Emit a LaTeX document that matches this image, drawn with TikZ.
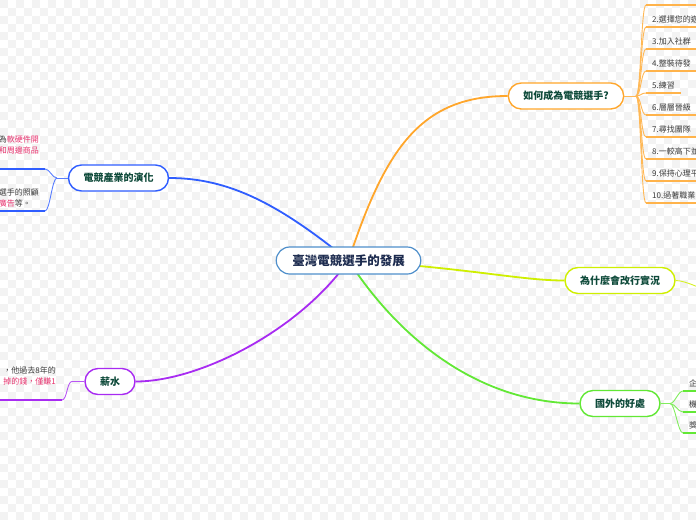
\documentclass[tikz,border=0pt]{standalone}
\usepackage{fontspec}
\setmainfont{Noto Sans CJK TC}
\usetikzlibrary{backgrounds}
\definecolor{rootblue}{HTML}{4F8FCB}
\definecolor{rootnavy}{HTML}{1B2A4E}
\definecolor{topicgreen}{HTML}{0E4A3A}
\definecolor{brorange}{HTML}{FFA62B}
\definecolor{brblue}{HTML}{2F5DFF}
\definecolor{brpurple}{HTML}{A82BF2}
\definecolor{brlime}{HTML}{CFEF00}
\definecolor{brgreen}{HTML}{62E835}
\definecolor{hotpink}{HTML}{E8336F}
\definecolor{leafgray}{HTML}{3A3A3A}
\definecolor{checker}{HTML}{F3F3F3}
\newcommand{\hot}[1]{{\color{hotpink}#1}}

\begin{document}
\begin{tikzpicture}[
        x=1pt,
        y=-1pt,
        every node/.style={inner sep=0pt},
        root/.style={
            draw=rootblue,
            line width=1.2pt,
            fill=white,
            rounded corners=13.5pt,
            minimum height=27pt,
            inner xsep=16pt,
            text=rootnavy,
            font=\bfseries\fontsize{12.5}{14}\selectfont
        },
        topic/.style={
            line width=1.4pt,
            fill=white,
            rounded corners=13pt,
            minimum height=26pt,
            inner xsep=15pt,
            text=topicgreen,
            font=\bfseries\fontsize{10}{12}\selectfont
        },
        leaf/.style={
            inner xsep=6pt,
            inner ysep=4pt,
            align=left,
            text=leafgray,
            font=\fontsize{8}{11}\selectfont
        },
        branch/.style={line width=1.8pt},
        twig/.style={line width=0.9pt},
        underline/.style={line width=1.3pt}
    ]
        \useasboundingbox (0,0) rectangle (696,520);
        \clip (0,0) rectangle (696,520);

        % centre and the six topics
        \node[root] (root) at (348.5,260.5) {臺灣電競選手的發展};
        \node[topic, draw=brorange] (how) at (566,96) {如何成為電競選手?};
        \node[topic, draw=brblue] (evo) at (118.5,178) {電競產業的演化};
        \node[topic, draw=brpurple] (pay) at (110,381.5) {薪水};
        \node[topic, draw=brlime] (why) at (620,280.5) {為什麼會改行實況};
        \node[topic, draw=brgreen] (abroad) at (620,403.5) {國外的好處};

        % steps on the right, join at x=636
        \coordinate (ojoin) at (636,96);
        \draw[twig, brorange!80] (how.east) -- (ojoin);
        \node[leaf, anchor=south west, minimum width=50pt] (o1) at (646,5) {};
        \foreach \k/\y/\txt in {2/27/2.選擇您的遊,3/49/3.加入社群,4/71/4.整裝待發,
            5/93/5.練習,6/115/6.層層晉級,7/137/7.尋找團隊,8/159/8.一較高下並,
            9/181/9.保持心理平,10/203/10.過著職業}
            \node[leaf, anchor=south west] (o\k) at (646,\y) {\txt};
        \foreach \k in {1,...,10} {
            \draw[twig, brorange!80] (ojoin) .. controls +(5,0) and +(-5,0) .. (o\k.south west);
            \draw[underline, brorange!85] (o\k.south west) -- (o\k.south east);
        }

        % evolution of the industry, text cut by the left edge
        \coordinate (ejoin) at (57,178);
        \draw[twig, brblue!80] (evo.west) -- (ejoin);
        \node[leaf, anchor=south east] (e1) at (45,169)
            {為\hot{軟硬件開}\\\hot{和周邊商品}\\ ~};
        \node[leaf, anchor=south east] (e2) at (45,211)
            {選手的照顧\\\hot{廣告}等。};
        \foreach \k in {1,2} {
            \draw[twig, brblue!80] (ejoin) .. controls +(-5,0) and +(5,0) .. (e\k.south east);
            \draw[underline, brblue] (e\k.south west) -- (e\k.south east);
        }

        % salary
        \coordinate (pjoin) at (72,381.5);
        \draw[twig, brpurple!80] (pay.west) -- (pjoin);
        \node[leaf, anchor=south east] (p1) at (62,400)
            {，他過去8年的\\\hot{掉的錢，僅賺1}\\ ~};
        \draw[twig, brpurple!80] (pjoin) .. controls +(-5,0) and +(5,0) .. (p1.south east);
        \draw[underline, brpurple] (p1.south west) -- (p1.south east);

        % why streaming, child off the edge
        \coordinate (whyout) at (712,293);
        \draw[twig, brlime!85] (why.east) .. controls +(10,0) and +(-8,-3) .. (whyout);

        % benefits abroad
        \coordinate (gjoin) at (670,403.5);
        \draw[twig, brgreen!80] (abroad.east) -- (gjoin);
        \foreach \k/\y/\txt in {1/391/企,2/412/機,3/433/獎} {
            \node[leaf, anchor=south west] (g\k) at (683,\y) {\txt};
            \draw[twig, brgreen!80] (gjoin) .. controls +(5,0) and +(-5,0) .. (g\k.south west);
            \draw[underline, brgreen] (g\k.south west) -- (g\k.south east);
        }

        \begin{pgfonlayer}{background}
            % faint checker paper
            \fill[white] (0,0) rectangle (696,520);
            \foreach \j in {0,...,64} {
                \pgfmathtruncatemacro\off{mod(\j,2)*8}
                \foreach \i in {0,16,...,688}
                    \fill[checker] (\i+\off,\j*8) rectangle ++(8,8);
            }
            % main branches from the centre
            \draw[branch, brorange] (root.center) .. controls (385,150) and (420,96) .. (how.west);
            \draw[branch, brblue] (root.center) .. controls (280,205) and (230,178) .. (evo.east);
            \draw[branch, brpurple] (root.center) .. controls (300,330) and (200,381.5) .. (pay.east);
            \draw[branch, brlime] (root.center) .. controls (470,268) and (520,280.5) .. (why.west);
            \draw[branch, brgreen] (root.center) .. controls (400,340) and (480,403.5) .. (abroad.west);
        \end{pgfonlayer}

    \end{tikzpicture}
\end{document}
